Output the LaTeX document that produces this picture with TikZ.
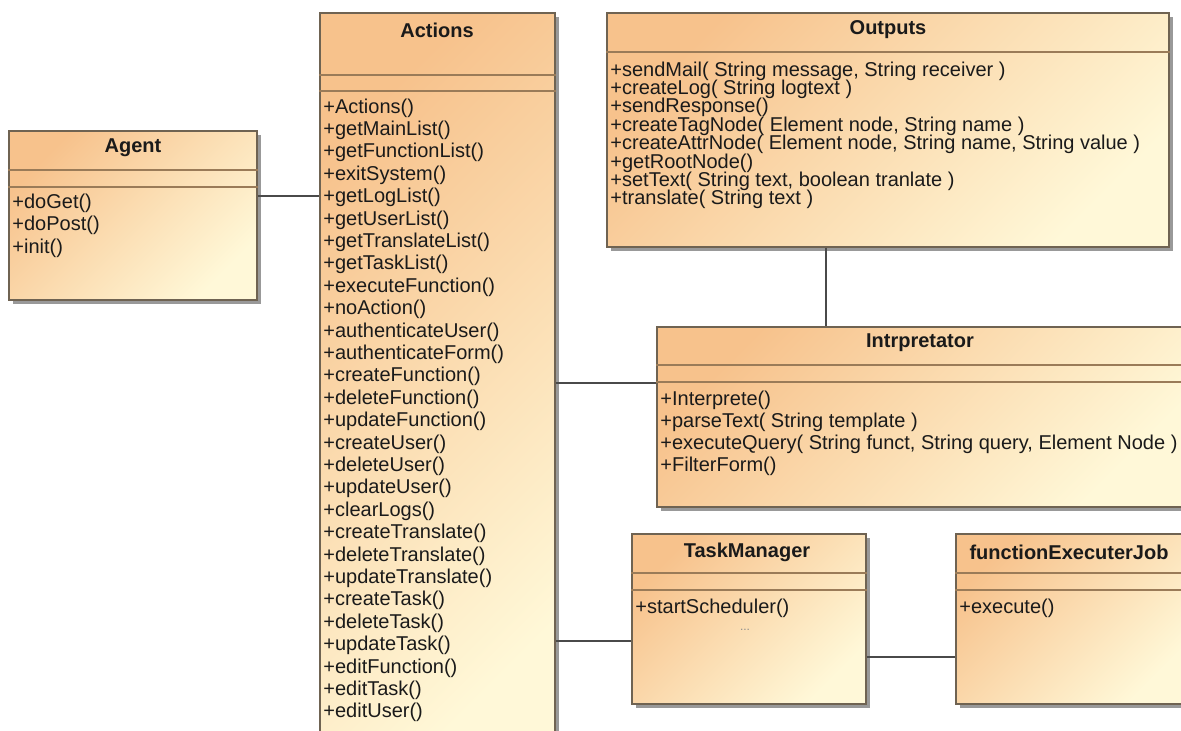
\documentclass[tikz,border=0pt]{standalone}
\usepackage{fontspec}
\setmainfont{Liberation Sans}
\usetikzlibrary{fit,shadows}
\definecolor{uorange}{HTML}{F7C28C}
\definecolor{ucream}{HTML}{FFF8D8}
\definecolor{uborder}{HTML}{6F6352}
\definecolor{udiv}{HTML}{9A7B58}
\definecolor{uline}{HTML}{4A4A4A}
\definecolor{utext}{HTML}{1A1A1A}
\begin{document}
\begin{tikzpicture}[x=0.5pt,y=-0.5pt,
  cls/.style={rectangle, draw=uborder, line width=0.6pt, inner sep=0pt,
    left color=uorange, right color=ucream, shading angle=45,
    drop shadow={shadow xshift=2pt, shadow yshift=-2pt, fill=black!40, opacity=1}},
  divline/.style={draw=udiv, line width=0.6pt},
  conn/.style={draw=uline, line width=0.75pt},
  ttl/.style={font=\fontsize{10pt}{12pt}\selectfont\bfseries, text=utext, inner sep=0pt},
  item/.style={anchor=west, inner sep=0pt, text=utext, font=\fontsize{10pt}{12pt}\selectfont}
]
\useasboundingbox (0,0) rectangle (1181,731);
\clip (0,0) rectangle (1181,731);
\fill[white] (0,0) rectangle (1181,731);

% ---------- Agent ----------
\node[cls, fit={(9,131) (257,300)}] (agent) {};
\node[ttl] (agentT) at (133,148) {Agent};
\draw[divline] (agent.west |- 0,170) -- (agent.east |- 0,170);
\draw[divline] (agent.west |- 0,187) -- (agent.east |- 0,187);
\foreach \t [count=\i] in {+doGet(), +doPost(), +init()}
  \node[item] (ag\i) at (12,{203+22.5*(\i-1)}) {\t};

% ---------- Actions ----------
\node[cls, fit={(320,13) (555,770)}] (actions) {};
\node[ttl] (actionsT) at (437,30) {Actions};
\draw[divline] (actions.west |- 0,75) -- (actions.east |- 0,75);
\draw[divline] (actions.west |- 0,91) -- (actions.east |- 0,91);
\foreach \t [count=\i] in {+Actions(), +getMainList(), +getFunctionList(), +exitSystem(),
  +getLogList(), +getUserList(), +getTranslateList(), +getTaskList(), +executeFunction(),
  +noAction(), +authenticateUser(), +authenticateForm(), +createFunction(), +deleteFunction(),
  +updateFunction(), +createUser(), +deleteUser(), +updateUser(), +clearLogs(),
  +createTranslate(), +deleteTranslate(), +updateTranslate(), +createTask(), +deleteTask(),
  +updateTask(), +editFunction(), +editTask(), +editUser()}
  \node[item] (ac\i) at (323,{108+22.4*(\i-1)}) {\t};

% ---------- Outputs ----------
\node[cls, fit={(607,13) (1169,247)}] (outputs) {};
\node[ttl] (outputsT) at (888,30) {Outputs};
\draw[divline] (outputs.west |- 0,52) -- (outputs.east |- 0,52);
\foreach \t [count=\i] in {{+sendMail( String message, String receiver )},
  {+createLog( String logtext )}, {+sendResponse()},
  {+createTagNode( Element node, String name )},
  {+createAttrNode( Element node, String name, String value )},
  {+getRootNode()}, {+setText( String text, boolean tranlate )},
  {+translate( String text )}}
  \node[item] (ou\i) at (610,{71+18.4*(\i-1)}) {\t};

% ---------- Intrpretator ----------
\node[cls, fit={(657,327) (1184,507)}] (interp) {};
\node[ttl] (interpT) at (920,343) {Intrpretator};
\draw[divline] (interp.west |- 0,365) -- (interp.east |- 0,365);
\draw[divline] (interp.west |- 0,382) -- (interp.east |- 0,382);
\foreach \t [count=\i] in {{+Interprete()}, {+parseText( String template )},
  {+executeQuery( String funct, String query, Element Node )}, {+FilterForm()}}
  \node[item] (in\i) at (660,{400+22*(\i-1)}) {\t};

% ---------- TaskManager ----------
\node[cls, fit={(632,534) (866,704)}] (task) {};
\node[ttl] (taskT) at (747,552) {TaskManager};
\draw[divline] (task.west |- 0,573) -- (task.east |- 0,573);
\draw[divline] (task.west |- 0,590) -- (task.east |- 0,590);
\node[item] (ta1) at (635,608) {+startScheduler()};
\node[inner sep=0pt, text=black!45, font=\fontsize{6pt}{7pt}\selectfont] (ta2) at (745,630) {...};

% ---------- functionExecuterJob ----------
\node[cls, fit={(956,534) (1186,704)}] (job) {};
\node[ttl] (jobT) at (1069,552) {functionExecuterJob};
\draw[divline] (job.west |- 0,573) -- (job.east |- 0,573);
\draw[divline] (job.west |- 0,590) -- (job.east |- 0,590);
\node[item] (jo1) at (959,608) {+execute()};

% ---------- connectors ----------
\draw[conn] (agent.east |- 0,196) -- (actions.west |- 0,196);
\draw[conn] (actions.east |- 0,383) -- (interp.west |- 0,383);
\draw[conn] (outputs.south -| 826,0) -- (interp.north -| 826,0);
\draw[conn] (actions.east |- 0,641) -- (task.west |- 0,641);
\draw[conn] (task.east |- 0,657) -- (job.west |- 0,657);
\end{tikzpicture}
\end{document}
